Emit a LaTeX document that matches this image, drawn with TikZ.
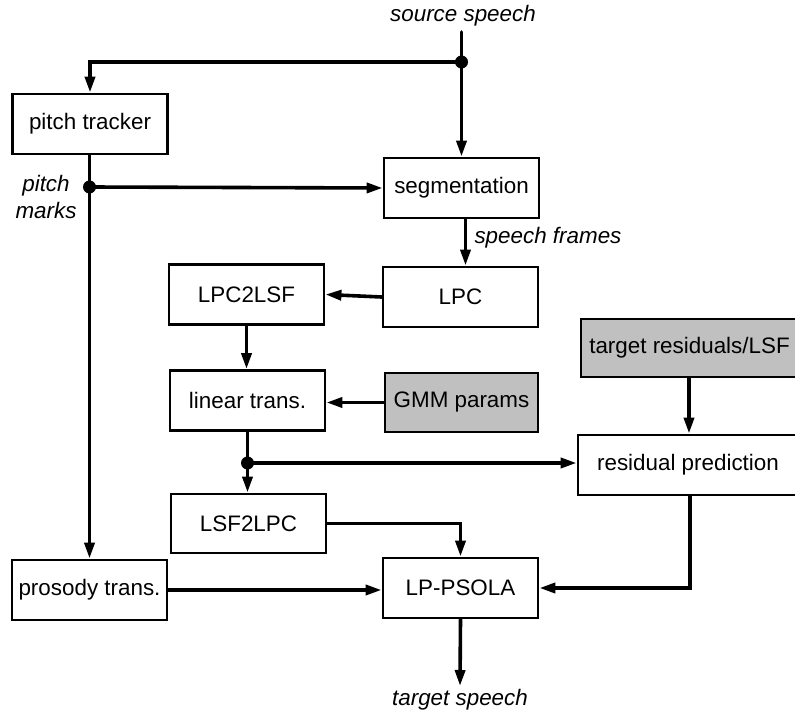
\documentclass[tikz,border=0pt]{standalone}
\usepackage{fontspec}
\setmainfont{Liberation Sans}
\usetikzlibrary{arrows.meta}
\definecolor{boxgray}{RGB}{192,192,192}
\begin{document}
\begin{tikzpicture}[x=1pt,y=-1pt,
  box/.style={draw, line width=2.8pt, minimum width=155pt, minimum height=60pt, inner sep=0pt,
    font=\fontsize{22.4}{25}\selectfont},
  grayfill/.style={fill=boxgray},
  lab/.style={font=\fontsize{22.4}{27}\selectfont\itshape, inner sep=0pt, align=center},
  conn/.style={line width=3.6pt, line cap=round},
  arr/.style={conn, -{Triangle[length=16pt,width=10pt]}},
  junct/.style={circle, fill=black, inner sep=0pt, minimum size=13pt}]
\clip (0,0) rectangle (795,711);
\fill[white] (0,0) rectangle (795,711);

% boxes
\node[box] (pt) at (90,124) {pitch tracker};
\node[box] (seg) at (461.5,188) {segmentation};
\node[box] (lpc) at (460.5,297) {LPC};
\node[box] (l2l) at (246.5,294.5) {LPC2LSF};
\node[box] (lin) at (247.5,400.5) {linear trans.};
\node[box, grayfill, minimum width=153pt, minimum height=59pt] (gmm) at (461.5,402.5) {GMM params};
\node[box, grayfill, minimum width=217pt, minimum height=58pt] (tr) at (689.5,348) {target residuals/LSF};
\node[box, minimum width=220pt] (rp) at (688,465) {residual prediction};
\node[box, minimum height=59pt] (lsf) at (248.5,523.5) {LSF2LPC};
\node[box] (pros) at (89.5,590) {prosody trans.};
\node[box] (ps) at (460.5,588) {LP-PSOLA};

% labels
\node[lab] (srclab) at (463,16) {source speech};
\node[lab] (sflab) at (548,238) {speech frames};
\node[lab] (pmlab) at (46,196.5) {pitch\\marks};
\node[lab] (tslab) at (460,700) {target speech};

% coordinates and junctions
\coordinate (src) at (461.5,32);
\node[junct] (j1) at (461.5,62) {};
\node[junct] (j2) at (89.5,187) {};
\node[junct] (j3) at (247.5,463) {};
\coordinate (tsend) at (460,686);

% connectors
\draw[arr] (src) -- (seg.north);
\draw[arr] (j1.center) -| (pt.north);
\draw[arr] (pt.south -| j2) -- (pros.north);
\draw[arr] (j2.center) -- (seg.west);
\draw[arr] ([xshift=4pt]seg.south) -- ([xshift=5pt]lpc.north);
\draw[arr] (lpc.west) -- (l2l.east);
\draw[arr] (l2l.south) -- (l2l.south |- lin.north);
\draw[arr] (gmm.west) -- (gmm.west -| lin.east);
\draw[arr] (lin.south) -- (lsf.north -| lin.south);
\draw[arr] (j3.center) -- (j3 -| rp.west);
\draw[arr] (tr.south -| 689,0) -- (689,0 |- rp.north);
\draw[arr] (lsf.east) -| (ps.north);
\draw[arr] (pros.east) -- (pros.east -| ps.west);
\draw[arr] (rp.south -| 690,0) |- (ps.east);
\draw[arr] (ps.south) -- (tsend);
\end{tikzpicture}
\end{document}
